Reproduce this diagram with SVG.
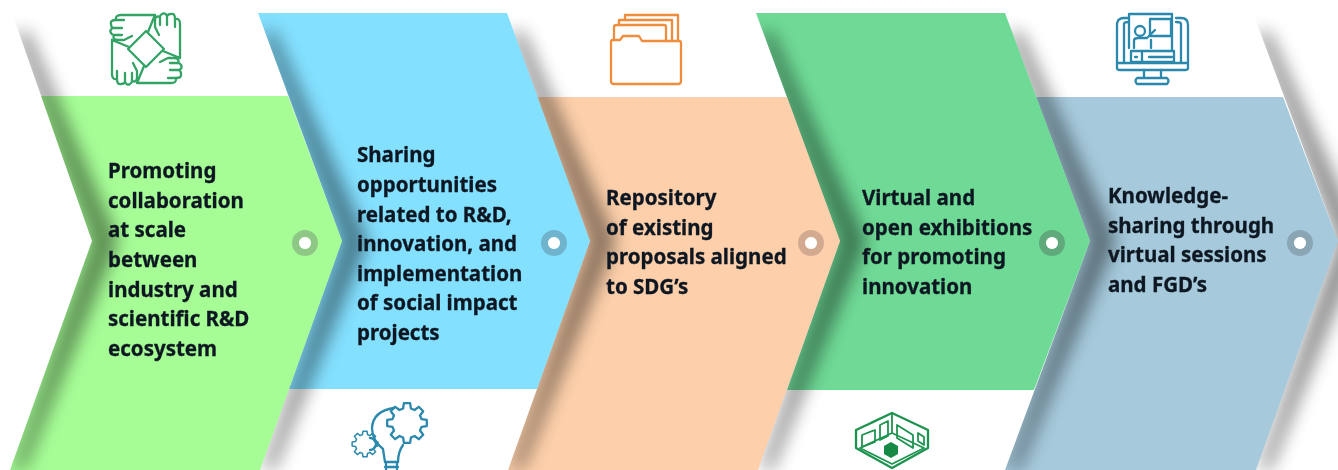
<svg xmlns="http://www.w3.org/2000/svg" width="1338" height="470" viewBox="0 0 1338 470">
<style>
text{font-family:"Noto Sans","Liberation Sans",sans-serif;font-weight:700;font-size:20.5px;fill:#0c1820;stroke:#0c1820;stroke-width:.3}
.s{fill:none;stroke-linejoin:round;stroke-linecap:round;stroke-width:2.3}
.g{stroke:#33a365}.b{stroke:#2b88ac}.o{stroke:#ef8d3c}.d{stroke:#1e9350}
.ring{fill:none;stroke-width:7}
.hole{fill:#fff}
.sh{fill:#000;opacity:.46;filter:url(#blur)}
.gear{vector-effect:non-scaling-stroke}
</style>
<defs>
<filter id="blur" x="-80%" y="-10%" width="260%" height="120%"><feGaussianBlur stdDeviation="9"/></filter>
<filter id="soft" x="-5%" y="-5%" width="110%" height="110%"><feGaussianBlur stdDeviation=".45"/></filter>
<clipPath id="c1"><path d="M12 13L92 241L10 470H160V13Z"/></clipPath>
<clipPath id="c2"><path d="M258 13L342 241L260 470H410V13Z"/></clipPath>
<clipPath id="c3"><path d="M507 13L590 241L508 470H660V13Z"/></clipPath>
<clipPath id="c4"><path d="M756 13L840 241L758 470H910V13Z"/></clipPath>
<clipPath id="c5"><path d="M1005 13L1090 241L1005 470H1160V13Z"/></clipPath>
<clipPath id="c6"><path d="M1253 13L1338 241L1256 470H1400V13Z"/></clipPath>
<path id="gear" d="M14.5 -3.9L19.8 -3.1L19.8 3.1L14.5 3.9L13 7.5L16.2 11.8L11.8 16.2L7.5 13L3.9 14.5L3.1 19.8L-3.1 19.8L-3.9 14.5L-7.5 13L-11.8 16.2L-16.2 11.8L-13 7.5L-14.5 3.9L-19.8 3.1L-19.8 -3.1L-14.5 -3.9L-13 -7.5L-16.2 -11.8L-11.8 -16.2L-7.5 -13L-3.9 -14.5L-3.1 -19.8L3.1 -19.8L3.9 -14.5L7.5 -13L11.8 -16.2L16.2 -11.8L13 -7.5Z"/>
<path id="hand" d="M155 15H121Q115 15 116 20Q110 20 111 24Q111 27 113 28Q109 30 111 33Q112 35 114 35Q112 40 118 40H124L132 36M155 15L148 32M116 20H124M113 28H122M114 35H122"/>
</defs>
<rect width="1338" height="470" fill="#fff"/>
<g id="step5"><path d="M1036 97H1283L1338 241L1256 470H1005L1090 241Z" fill="#a6cadc"/></g>
<g id="step4"><path d="M756 13H1005L1090 241L1034 390H787L840 241Z" fill="#6fda96"/></g>
<g id="step3"><path d="M537 97H787L840 241L758 470H508L590 241Z" fill="#fdd0ab"/></g>
<g id="step2"><path d="M258 13H507L590 241L537 389H289L342 241Z" fill="#84e0ff"/></g>
<g id="step1"><path d="M41 96H288L342 241L260 470H10L92 241Z" fill="#a6fd96"/></g>
<g id="shadows">
<g clip-path="url(#c1)"><path class="sh" d="M15 32L92 241L13 470H24L118 241L28 32Z"/></g>
<g clip-path="url(#c2)"><path class="sh" d="M261 32L342 241L263 470H274L368 241L274 32Z"/></g>
<g clip-path="url(#c3)"><path class="sh" d="M510 32L590 241L511 470H522L616 241L523 32Z"/></g>
<g clip-path="url(#c4)"><path class="sh" d="M759 32L840 241L761 470H772L866 241L772 32Z"/></g>
<g clip-path="url(#c5)"><path class="sh" d="M1008 32L1090 241L1008 470H1019L1116 241L1021 32Z"/></g>
<g clip-path="url(#c6)"><path class="sh" d="M1256 32L1338 241L1259 470H1270L1364 241L1269 32Z"/></g>
</g>
<g id="dots">
<circle cx="305" cy="243" r="9.5" class="ring" stroke="#8fc786"/><circle cx="305" cy="243" r="6" class="hole"/>
<circle cx="554" cy="243" r="9.5" class="ring" stroke="#6fb3cc"/><circle cx="554" cy="243" r="6" class="hole"/>
<circle cx="811" cy="243" r="9.5" class="ring" stroke="#d2aa90"/><circle cx="811" cy="243" r="6" class="hole"/>
<circle cx="1052" cy="243" r="9.5" class="ring" stroke="#5fa97d"/><circle cx="1052" cy="243" r="6" class="hole"/>
<circle cx="1300" cy="243" r="9.5" class="ring" stroke="#8aa5b4"/><circle cx="1300" cy="243" r="6" class="hole"/>
</g>
<g filter="url(#soft)">
<g id="icon-hands" class="s g">
<path d="M146 31L164 49L146 67L128 49Z"/>
<use href="#hand"/>
<use href="#hand" transform="rotate(90 146 49)"/>
<use href="#hand" transform="rotate(180 146 49)"/>
<use href="#hand" transform="rotate(270 146 49)"/>
</g>
<g id="icon-folder" class="s o">
<path d="M611 80V42Q611 40 613 40H620L623 36H639L642 41H679Q681 41 681 43V81Q681 84 678 84H614Q611 84 611 81Z"/>
<path d="M614 40V27Q614 25 617 25H664Q666 25 666 27V41"/>
<path d="M619 25V20H672V41"/>
<path d="M625 20V15H678V41"/>
</g>
<g id="icon-screen" class="s b">
<path d="M1129 18H1124Q1117 18 1117 25V68Q1117 70 1120 70H1185Q1188 70 1188 68V25Q1188 18 1181 18H1176"/>
<path d="M1124 63V24Q1124 22 1129 22"/>
<path d="M1181 63V24Q1181 22 1176 22"/>
<path d="M1129 48V14H1172V51M1131 51H1174V62H1131ZM1117 63H1188"/>
<path d="M1150 19H1171V36H1150Z"/>
<circle cx="1140" cy="31" r="5"/>
<path d="M1134 48V41Q1134 38 1138 38H1147L1155 30M1151 40V48"/>
<path d="M1142 52V62M1149 57H1172M1135 57H1137"/>
<path d="M1144 70V78M1161 70V78M1137 84H1167Q1170 81 1167 78H1137Q1134 81 1137 84Z"/>
</g>
<g id="icon-bulb" class="s b">
<use href="#gear" class="gear" transform="translate(407 423)"/>
<use href="#gear" class="gear" transform="translate(365 444) scale(.65)"/>
<path d="M394 408Q373 411 372 428Q372 440 383 449L385 462M403 445Q398 452 398 462"/>
<path d="M370 438A6 6 0 0 1 370 450"/>
<path d="M385 462H398M385 467H398M386 462V470M397 462V470"/>
</g>
<g id="icon-box" class="s d">
<path d="M892 413L928 430V448L892 468L856 448V430Z"/>
<path d="M892 413V433M860 448L892 433L924 448L892 464Z" stroke-width="1.8"/>
<path d="M862 435L875 430V442L862 447ZM897 425L913 435V448L897 438ZM918 433L924 437V445L918 441ZM880 425L888 421V436L880 440Z" stroke-width="1.8"/>
<path d="M891 442L898 446V454L891 458L884 454V446Z" fill="#128a45" stroke="none"/>
</g>
<g id="labels">
<text x="108" y="178">Promoting</text><text x="108" y="208">collaboration</text><text x="108" y="237">at scale</text><text x="108" y="267">between</text><text x="108" y="297">industry and</text><text x="108" y="326">scientific R&amp;D</text><text x="108" y="356">ecosystem</text>
<text x="357" y="162">Sharing</text><text x="357" y="192">opportunities</text><text x="357" y="222">related to R&amp;D,</text><text x="357" y="251">innovation, and</text><text x="357" y="281">implementation</text><text x="357" y="310">of social impact</text><text x="357" y="340">projects</text>
<text x="606" y="205">Repository</text><text x="606" y="235">of existing</text><text x="606" y="264">proposals aligned</text><text x="606" y="294">to SDG’s</text>
<text x="862" y="205">Virtual and</text><text x="862" y="235">open exhibitions</text><text x="862" y="264">for promoting</text><text x="862" y="294">innovation</text>
<text x="1108" y="203">Knowledge-</text><text x="1108" y="233">sharing through</text><text x="1108" y="262">virtual sessions</text><text x="1108" y="292">and FGD’s</text>
</g>
</g>
</svg>
